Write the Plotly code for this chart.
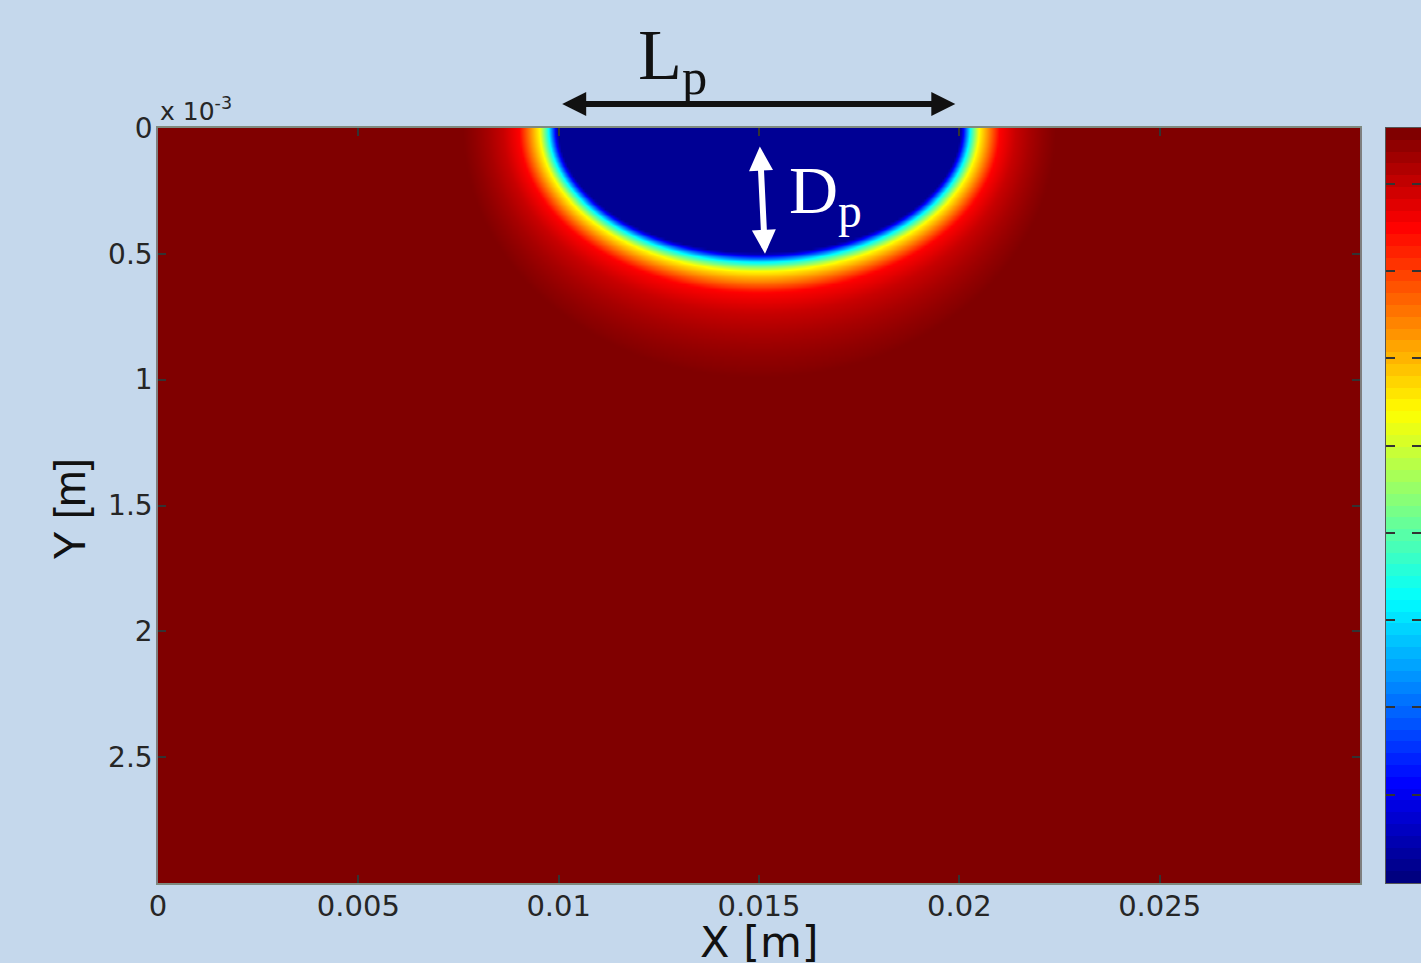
import numpy as np
import plotly.graph_objects as go

# ---------------- data ----------------
# axis ticks
x_tickvals = [0, 0.005, 0.01, 0.015, 0.02, 0.025]
x_ticktext = ["0", "0.005", "0.01", "0.015", "0.02", "0.025"]
y_tickvals = [0, 0.5e-3, 1.0e-3, 1.5e-3, 2.0e-3, 2.5e-3]
y_ticktext = ["0", "0.5", "1", "1.5", "2", "2.5"]
x_range = [0, 0.03]
y_range = [3e-3, 0]

# melt pool geometry (m)
pool_center_x = 0.015
pool_half_length = 0.00503
pool_depth = 0.497e-3

# normalised field value vs. offset from the pool boundary (in screen px)
profile_offset = [0, 3, 9.5, 18.5, 39, 55, 70, 84, 95]
profile_value = [0.02, 0.125, 0.375, 0.625, 0.875, 0.93, 0.962, 0.985, 1.0]
pool_value = 0.02
# vertical/horizontal stretch of the iso-lines vs. offset
stretch_offset = [0, 40, 90]
stretch_factor = [0.95, 1.0, 1.3]

# colorbar (64 band jet) and its tick positions (normalised)
n_bands = 64
cbar_ticks = [0.117, 0.2326, 0.3482, 0.4638, 0.5794, 0.695, 0.8106, 0.9262]

# annotation positions
Lp_arrow = dict(x0=0.01005, x1=0.0199)
Dp_arrow = dict(x0=0.01502, y0=0.068e-3, x1=0.01515, y1=0.50e-3)

# ---------------- colours ----------------
jet = [
    [0.0, "rgb(0,0,128)"],
    [0.125, "rgb(0,0,255)"],
    [0.375, "rgb(0,255,255)"],
    [0.625, "rgb(255,255,0)"],
    [0.875, "rgb(255,0,0)"],
    [1.0, "rgb(128,0,0)"],
]
bg = "#c5d8ec"

# ---------------- build field ----------------
W, H = 1421, 963
ml, mt, mb, mr = 158, 128, 80, 0
plot_w = 1202
plot_h = H - mt - mb
pxx = plot_w / (x_range[1] - x_range[0])
pxy = plot_h / (y_range[0] - y_range[1])

xg = np.linspace(0, 0.03, 601)
yg = np.linspace(0, 3e-3, 301)
XX, YY = np.meshgrid(xg, yg)
Xp = np.abs(XX - pool_center_x) * pxx
Yp = YY * pxy
A = pool_half_length * pxx
B = pool_depth * pxy


def g(d):
    f = np.interp(d, stretch_offset, stretch_factor)
    return (Xp / (A + d)) ** 2 + (Yp / (B + f * d)) ** 2 - 1


inside = g(np.zeros_like(Xp)) <= 0
lo = np.zeros_like(Xp)
hi = np.full_like(Xp, 900.0)
for _ in range(45):
    mid = 0.5 * (lo + hi)
    pos = g(mid) > 0
    lo = np.where(pos, mid, lo)
    hi = np.where(pos, hi, mid)
dist = 0.5 * (lo + hi)
Z = np.interp(dist, profile_offset, profile_value)
Z = np.where(inside, pool_value, Z)
Z = np.round(Z, 3)

fig = go.Figure()
fig.add_trace(go.Heatmap(
    x=xg, y=yg, z=Z, colorscale=jet, zmin=0, zmax=1,
    showscale=False, zsmooth="best", hoverinfo="skip",
    xaxis="x", yaxis="y",
))

band_vals = [i / (n_bands - 1) for i in range(n_bands)]
band_centers = [(i + 0.5) / n_bands for i in range(n_bands)]
fig.add_trace(go.Heatmap(
    x=[0], y=band_centers, z=[[v] for v in band_vals],
    colorscale=jet, zmin=0, zmax=1, showscale=False, hoverinfo="skip",
    xaxis="x2", yaxis="y2",
))

SANS = "DejaVu Sans, Arial, sans-serif"
SERIF = "Liberation Serif, Times New Roman, serif"
px_paper_w = W - ml - mr

fig.update_layout(
    width=W, height=H,
    margin=dict(l=ml, r=mr, t=mt, b=mb, pad=0),
    paper_bgcolor=bg, plot_bgcolor=bg,
    showlegend=False,
    xaxis=dict(
        domain=[0, plot_w / px_paper_w], range=x_range,
        tickvals=x_tickvals, ticktext=x_ticktext,
        tickfont=dict(family=SANS, size=29, color="#262626"),
        ticks="inside", ticklen=8, tickwidth=1.5, tickcolor="#333",
        showline=True, linecolor="#7f8a7f", linewidth=1.5, mirror="ticks",
        showgrid=False, zeroline=False, ticklabelstandoff=-4,
    ),
    yaxis=dict(
        domain=[0, 1], range=y_range,
        tickvals=y_tickvals, ticktext=y_ticktext,
        tickfont=dict(family=SANS, size=28, color="#262626"),
        ticks="inside", ticklen=8, tickwidth=1.5, tickcolor="#333",
        showline=True, linecolor="#7f7f7f", linewidth=1.5, mirror="ticks",
        showgrid=False, zeroline=False, ticklabelstandoff=-2,
    ),
    xaxis2=dict(
        domain=[(1386 - ml) / px_paper_w, 1], anchor="y2",
        range=[-0.5, 0.5], showticklabels=False, ticks="",
        showline=True, linecolor="#555", linewidth=1, mirror=True,
        showgrid=False, zeroline=False,
    ),
    yaxis2=dict(
        domain=[0, 1], anchor="x2", range=[0, 1],
        tickvals=cbar_ticks, showticklabels=False,
        ticks="inside", ticklen=9, tickwidth=1.5, tickcolor="#333",
        showline=True, linecolor="#555", linewidth=1, mirror="ticks",
        showgrid=False, zeroline=False,
    ),
)

annotations = [
    dict(xref="paper", yref="paper", x=0.0, y=1.0, xanchor="left", yanchor="bottom",
         text="x 10<sup>-3</sup>", showarrow=False,
         font=dict(family=SANS, size=25, color="#262626")),
    dict(xref="x", yref="paper", x=0.015, y=-(942 - (H - mb)) / plot_h,
         xanchor="center", yanchor="middle", text="X [m]", showarrow=False,
         font=dict(family=SANS, size=43, color="#111")),
    dict(xref="paper", yref="paper", x=(70 - ml) / px_paper_w, y=1 - (509 - mt) / plot_h,
         xanchor="center", yanchor="middle", text="Y [m]", showarrow=False, textangle=-90,
         font=dict(family="Liberation Sans, Arial, sans-serif", size=44, color="#111")),
    # L_p arrow
    dict(xref="x", yref="paper", axref="x", ayref="pixel",
         x=Lp_arrow["x1"], y=1 + 24 / plot_h, ax=Lp_arrow["x0"], ay=0,
         text="", showarrow=True, arrowhead=2, startarrowhead=2, arrowside="end+start",
         arrowsize=0.8, startarrowsize=0.8, arrowwidth=6, arrowcolor="#111"),
    dict(xref="paper", yref="paper", x=(672 - ml) / px_paper_w, y=1 + (128 - 60) / plot_h,
         xanchor="center", yanchor="middle", text="L<sub>p</sub>", showarrow=False,
         font=dict(family=SERIF, size=72, color="#111")),
    # D_p arrow
    dict(xref="x", yref="y", axref="x", ayref="y",
         x=Dp_arrow["x1"], y=Dp_arrow["y1"], ax=Dp_arrow["x0"], ay=Dp_arrow["y0"],
         text="", showarrow=True, arrowhead=2, startarrowhead=2, arrowside="end+start",
         arrowsize=0.8, startarrowsize=0.8, arrowwidth=6, arrowcolor="#ffffff"),
    dict(xref="x", yref="y", x=0.01665, y=0.265e-3,
         xanchor="center", yanchor="middle", text="D<sub>p</sub>", showarrow=False,
         font=dict(family=SERIF, size=68, color="#ffffff")),
]
fig.update_layout(annotations=annotations)

fig.write_html("out.html", config={"displayModeBar": False},
               post_script="document.body.style.margin='0px';")
